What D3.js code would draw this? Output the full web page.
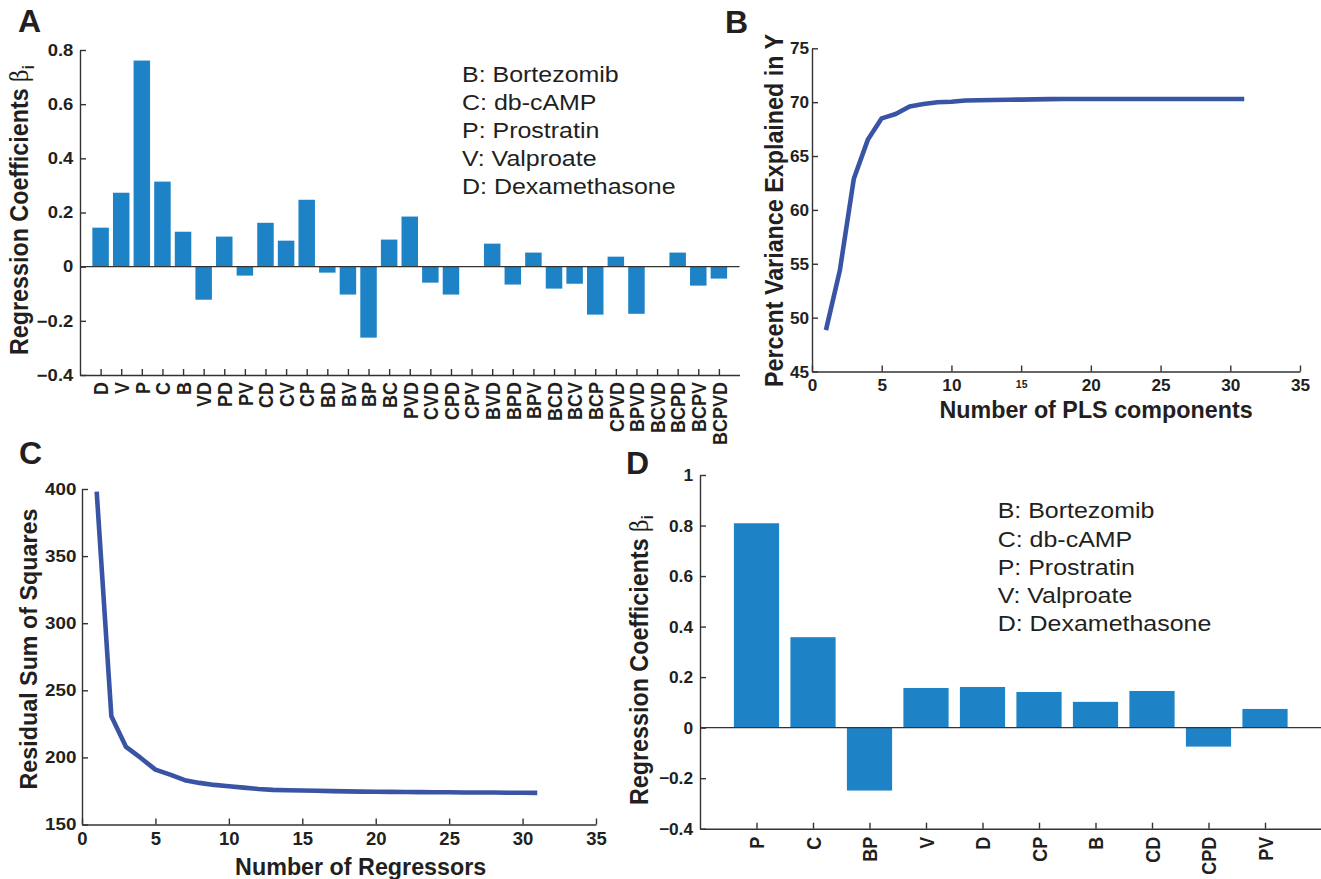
<!DOCTYPE html>
<html><head><meta charset="utf-8">
<script src="https://cdn.jsdelivr.net/npm/d3@7"></script>
<style>
body{margin:0;background:#fff}
svg{display:block}
text{font-family:"Liberation Sans",Arial,Helvetica,sans-serif;fill:#231f20}
</style>
</head><body>
<svg id="chart" width="1321" height="879"></svg>
<script>
// ---------- data ----------
const aCategories = ["D","V","P","C","B","VD","PD","PV","CD","CV","CP","BD","BV","BP","BC","PVD","CVD","CPD","CPV","BVD","BPD","BPV","BCD","BCV","BCP","CPVD","BPVD","BCVD","BCPD","BCPV","BCPVD"];
const aValues = [0.144,0.273,0.761,0.314,0.129,-0.122,0.111,-0.033,0.162,0.096,0.247,-0.022,-0.103,-0.262,0.100,0.185,-0.059,-0.103,0,0.085,-0.066,0.052,-0.081,-0.063,-0.177,0.037,-0.174,0,0.052,-0.070,-0.044];
const legendLines = ["B: Bortezomib","C: db-cAMP","P: Prostratin","V: Valproate","D: Dexamethasone"];
const coefTicks = [-0.4,-0.2,0,0.2,0.4,0.6,0.8];
const dCoefTicks = [-0.4,-0.2,0,0.2,0.4,0.6,0.8,1];

const bComponents = [1,2,3,4,5,6,7,8,9,10,11,12,13,14,15,16,17,18,19,20,21,22,23,24,25,26,27,28,29,30,31];
const bVariance = [48.84,54.4,62.9,66.5,68.5,68.9,69.6,69.83,69.99,70.04,70.15,70.18,70.2,70.22,70.24,70.26,70.28,70.29,70.3,70.3,70.3,70.3,70.3,70.3,70.3,70.3,70.3,70.3,70.3,70.3,70.3];
const bYTicks = [45,50,55,60,65,70,75];
const xTicks35 = [0,5,10,15,20,25,30,35];

const cRegressors = [1,2,3,4,5,6,7,8,9,10,11,12,13,14,15,16,17,18,19,20,21,22,23,24,25,26,27,28,29,30,31];
const cRSS = [398,230.6,207.8,199.6,190.9,187.2,183,181,179.5,178.5,177.5,176.5,175.8,175.5,175.3,175.1,174.9,174.7,174.5,174.4,174.3,174.2,174.1,174,174,173.9,173.8,173.8,173.7,173.7,173.6];
const cYTicks = [150,200,250,300,350,400];

const dCategories = ["P","C","BP","V","D","CP","B","CD","CPD","PV"];
const dValues = [0.809,0.358,-0.249,0.157,0.161,0.141,0.102,0.145,-0.075,0.074];

// ---------- styles ----------
const BAR = "#1d83c6", LINE = "#3a54a5", AX = "#333";
const svg = d3.select("#chart");

function txt(g, x, y, s, o) {
  o = o || {};
  const t = g.append("text")
    .attr("transform", `translate(${x},${y}) scale(${o.sx||1},1)` + (o.rot ? ` rotate(${o.rot})` : ""))
    .attr("text-anchor", o.anchor || "start")
    .attr("font-size", o.size || 16)
    .attr("font-weight", o.weight || "bold");
  if (s !== null) t.text(s);
  return t;
}
function styleAxis(g, size) {
  g.attr("font-family", null).attr("font-size", null);
  g.select(".domain").attr("stroke", AX).attr("stroke-width", 1.4);
  g.selectAll(".tick line").attr("stroke", AX).attr("stroke-width", 1.4);
  g.selectAll(".tick text").attr("font-size", size).attr("font-weight", "bold").attr("fill", "#231f20");
}
const fmtCoef = d => d === 0 ? "0" : (d === 1 ? "1" : (d < 0 ? "\u2212" : "") + Math.abs(d).toFixed(1));

// ---------- panel letters ----------
txt(svg, 18, 32, "A", {size: 32});
txt(svg, 725, 33, "B", {size: 32});
txt(svg, 19, 464, "C", {size: 32});
txt(svg, 626, 474, "D", {size: 32});

// ---------- Panel A ----------
(function(){
  const g = svg.append("g");
  const x = d3.scaleLinear().domain([0, 32]).range([80, 739.5]);
  const y = d3.scaleLinear().domain([-0.4, 0.8]).range([375, 50]);
  const bw = (x(1) - x(0)) * 0.8;
  g.selectAll("rect").data(aValues).enter().append("rect")
    .attr("x", (d,i) => x(i+1) - bw/2)
    .attr("width", bw)
    .attr("y", d => y(Math.max(0,d)))
    .attr("height", d => Math.abs(y(d) - y(0)))
    .attr("fill", BAR);
  g.append("line").attr("x1", x(0)).attr("x2", x(32)).attr("y1", y(0)).attr("y2", y(0))
    .attr("stroke", AX).attr("stroke-width", 1.4);
  const ya = g.append("g").attr("transform", `translate(${x(0)},0)`)
    .call(d3.axisLeft(y).tickValues(coefTicks).tickSizeInner(-6).tickSizeOuter(0).tickPadding(6).tickFormat(fmtCoef));
  styleAxis(ya, 16.5);
  ya.selectAll(".tick text").attr("transform", "scale(1.12,1)");
  const xa = g.append("g").attr("transform", `translate(0,${y(-0.4)})`)
    .call(d3.axisBottom(x).tickValues(aCategories.map((c,i)=>i+1)).tickSizeInner(-6).tickSizeOuter(0).tickFormat(i => aCategories[i-1]));
  styleAxis(xa, 18);
  xa.selectAll(".tick text").attr("x", -7).attr("y", 0).attr("dy", "0.36em")
    .attr("text-anchor", "end").attr("transform", "scale(1.12,1) rotate(-90)");
  const lab = txt(g, 28, 355, null, {size: 23.3, rot: -90, sx: 1.1});
  lab.append("tspan").text("Regression Coefficients ");
  lab.append("tspan").attr("font-weight", "normal").attr("font-family", "DejaVu Serif").attr("font-size", 22).text("\u03B2");
  lab.append("tspan").attr("font-size", 15).attr("dy", 5).text("i");
  legendLines.forEach((s, i) => txt(g, 462, 82 + i*28, s, {size: 22.3, weight: "normal", sx: 1.12}));
})();

// ---------- Panel B ----------
(function(){
  const g = svg.append("g");
  const x = d3.scaleLinear().domain([0, 35]).range([812, 1300]);
  const y = d3.scaleLinear().domain([45, 75]).range([371.5, 48.3]);
  g.append("path").datum(bVariance)
    .attr("d", d3.line().x((d,i) => x(bComponents[i])).y(d => y(d)))
    .attr("fill", "none").attr("stroke", LINE).attr("stroke-width", 4.6).attr("stroke-linejoin", "round");
  const ya = g.append("g").attr("transform", `translate(${x(0)},0)`)
    .call(d3.axisLeft(y).tickValues(bYTicks).tickSizeInner(-6).tickSizeOuter(0).tickPadding(3));
  styleAxis(ya, 17.2);
  const xa = g.append("g").attr("transform", `translate(0,${y(45)})`)
    .call(d3.axisBottom(x).tickValues(xTicks35).tickSizeInner(-6).tickSizeOuter(0).tickPadding(7));
  styleAxis(xa, 17.2);
  xa.selectAll(".tick text").filter(d => d === 15).attr("font-size", 10.5).attr("dy", "0.9em");
  txt(g, 1096, 418.3, "Number of PLS components", {size: 23.3, anchor: "middle"});
  txt(g, 782.5, 210.5, "Percent Variance Explained in Y", {size: 23.3, anchor: "middle", rot: -90, sx: 1.1});
})();

// ---------- Panel C ----------
(function(){
  const g = svg.append("g");
  const x = d3.scaleLinear().domain([0, 35]).range([82, 596]);
  const y = d3.scaleLinear().domain([150, 400]).range([824.5, 489]);
  g.append("path").datum(cRSS)
    .attr("d", d3.line().x((d,i) => x(cRegressors[i])).y(d => y(d)))
    .attr("fill", "none").attr("stroke", LINE).attr("stroke-width", 4.6).attr("stroke-linejoin", "round");
  const ya = g.append("g").attr("transform", `translate(${x(0)},0)`)
    .call(d3.axisLeft(y).tickValues(cYTicks).tickSizeInner(-6).tickSizeOuter(0).tickPadding(5));
  styleAxis(ya, 16.8);
  ya.selectAll(".tick text").attr("transform", "scale(1.12,1)");
  const xa = g.append("g").attr("transform", `translate(0,${y(150)})`)
    .call(d3.axisBottom(x).tickValues(xTicks35).tickSizeInner(-6).tickSizeOuter(0).tickPadding(7));
  styleAxis(xa, 18.5);
  txt(g, 360.7, 875, "Number of Regressors", {size: 23.3, anchor: "middle"});
  txt(g, 36.5, 649, "Residual Sum of Squares", {size: 23.3, anchor: "middle", rot: -90});
})();

// ---------- Panel D ----------
(function(){
  const g = svg.append("g");
  const x = d3.scaleLinear().domain([0, 11]).range([700, 1321.5]);
  const y = d3.scaleLinear().domain([-0.4, 1]).range([828.7, 475]);
  const bw = (x(1) - x(0)) * 0.8;
  g.selectAll("rect").data(dValues).enter().append("rect")
    .attr("x", (d,i) => x(i+1) - bw/2)
    .attr("width", bw)
    .attr("y", d => y(Math.max(0,d)))
    .attr("height", d => Math.abs(y(d) - y(0)))
    .attr("fill", BAR);
  g.append("line").attr("x1", x(0)).attr("x2", x(11)).attr("y1", y(0)).attr("y2", y(0))
    .attr("stroke", AX).attr("stroke-width", 1.4);
  const ya = g.append("g").attr("transform", `translate(${x(0)},0)`)
    .call(d3.axisLeft(y).tickValues(dCoefTicks).tickSizeInner(-6).tickSizeOuter(0).tickPadding(7).tickFormat(fmtCoef));
  styleAxis(ya, 17.3);
  const xa = g.append("g").attr("transform", `translate(0,${y(-0.4)})`)
    .call(d3.axisBottom(x).tickValues(dCategories.map((c,i)=>i+1)).tickSizeInner(-6).tickSizeOuter(0).tickFormat(i => dCategories[i-1]));
  styleAxis(xa, 18);
  xa.selectAll(".tick text").attr("x", -8).attr("y", 0).attr("dy", "0.36em")
    .attr("text-anchor", "end").attr("transform", "scale(1.08,1) rotate(-90)");
  const lab = txt(g, 647.5, 805, null, {size: 23.3, rot: -90, sx: 1.1});
  lab.append("tspan").text("Regression Coefficients ");
  lab.append("tspan").attr("font-weight", "normal").attr("font-family", "DejaVu Serif").attr("font-size", 22).text("\u03B2");
  lab.append("tspan").attr("font-size", 15).attr("dy", 5).text("i");
  legendLines.forEach((s, i) => txt(g, 997.7, 518.3 + i*28.2, s, {size: 22.3, weight: "normal", sx: 1.12}));
})();
</script>
</body></html>
